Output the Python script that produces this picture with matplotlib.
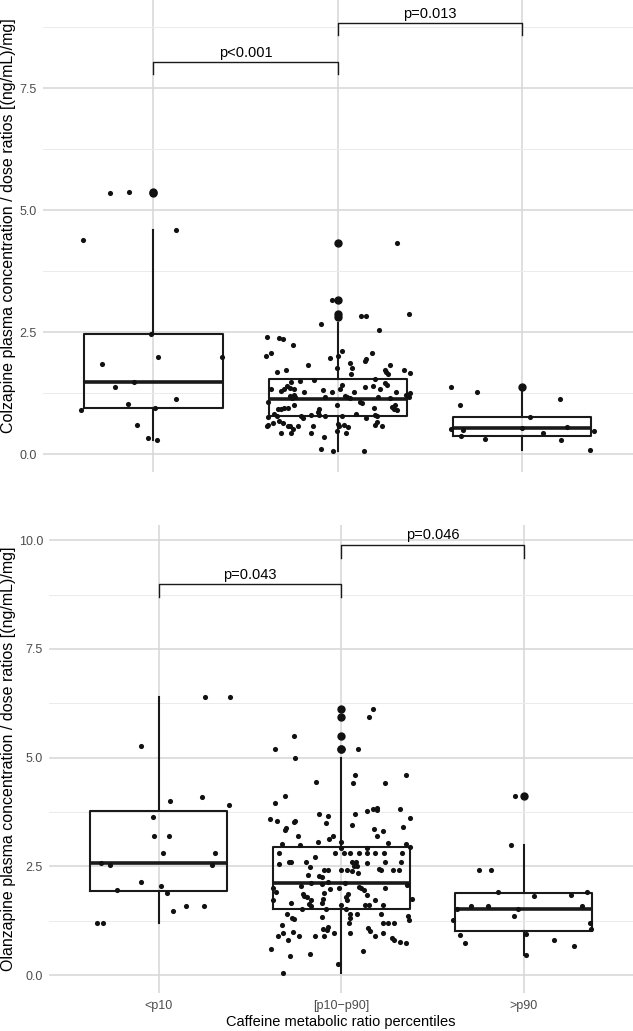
import matplotlib
matplotlib.use("Agg")
import matplotlib.pyplot as plt
import numpy as np

plt.rcParams['font.family'] = ['Liberation Sans', 'DejaVu Sans']

categories = ["<p10", "[p10\u2212p90]", ">p90"]

# ---------------- Clozapine (top panel) ----------------
clz_lo_vals = [5.36, 5.38, 4.39, 4.59, 2.47, 1.99, 1.99, 1.84, 1.47, 1.37, 1.13, 1.03, 0.91, 0.94, 0.59, 0.34, 0.29]
clz_lo_jit = [-0.235, -0.134, -0.38, 0.12, -0.014, 0.026, 0.37, -0.28, -0.105, -0.21, 0.123, -0.137, -0.39, 0.011, -0.089, -0.03, 0.022]

clz_mid_vals = [4.32, 3.17, 2.83, 2.83, 2.87, 2.67, 2.55, 2.40, 2.38, 2.36, 2.24, 2.01, 2.07, 2.12, 1.97, 2.02, 2.08,
                1.95, 1.91, 1.86, 1.77, 1.83, 1.83, 1.77, 1.69, 1.72, 1.64, 1.72, 1.65, 1.69, 1.72, 1.66, 1.55, 1.51,
                1.50, 1.47, 1.46, 1.41, 1.33, 1.34, 1.36, 1.30, 1.34, 1.39, 1.27, 1.31, 1.28, 1.33, 1.42, 1.27, 1.38,
                1.40, 1.33, 1.27, 1.25, 1.18, 1.22, 1.20, 1.21, 1.15, 1.17, 1.18, 1.20, 1.17, 1.15, 1.06, 1.04, 1.17,
                1.15, 1.01, 1.06, 1.00, 0.93, 0.93, 0.94, 0.95, 0.92, 0.87, 0.95, 0.97, 1.00, 0.90, 0.93, 0.79, 0.80,
                0.81, 0.78, 0.78, 0.83, 0.81, 0.79, 0.77, 0.82, 0.78, 0.75, 0.75, 0.68, 0.57, 0.60, 0.64, 0.63, 0.57,
                0.58, 0.51, 0.57, 0.57, 0.61, 0.57, 0.60, 0.56, 0.60, 0.66, 0.57, 0.43, 0.43, 0.44, 0.47, 0.43, 0.35,
                0.10, 0.06, 0.07]
clz_mid_jit = [0.32, -0.03, 0.127, 0.152, 0.388, -0.094, 0.225, -0.384, -0.318, -0.30, -0.244, -0.389, -0.36, 0.024,
               -0.045, 0.003, 0.183, 0.152, 0.147, 0.065, 0.078, 0.283, -0.161, -0.007, -0.33, -0.279, 0.07, 0.254,
               0.27, 0.26, 0.36, 0.393, 0.203, -0.13, -0.207, -0.252, 0.255, 0.266, -0.36, -0.29, -0.262, -0.307,
               -0.235, -0.275, -0.185, -0.078, -0.031, 0.009, 0.022, 0.087, 0.145, 0.19, 0.229, 0.313, 0.39, 0.386,
               0.37, -0.258, -0.24, -0.25, -0.23, -0.07, 0.04, 0.05, 0.068, 0.12, 0.13, 0.22, 0.283, -0.007, -0.38,
               -0.24, -0.325, -0.31, -0.29, -0.27, -0.10, -0.11, 0.197, 0.295, 0.308, 0.318, 0.305, -0.20, -0.148,
               -0.10, -0.07, 0.025, 0.10, 0.20, 0.21, -0.38, -0.348, -0.33, -0.19, 0.15, -0.317, -0.386, -0.38,
               -0.35, -0.30, -0.27, -0.257, -0.244, -0.214, -0.134, 0.0, 0.007, 0.033, 0.054, 0.20, 0.214, 0.24,
               -0.308, -0.253, -0.143, -0.005, 0.044, -0.076, -0.094, -0.025, 0.14]

clz_hi_vals = [1.38, 1.27, 1.00, 1.13, 0.77, 0.52, 0.49, 0.38, 0.31, 0.54, 0.44, 0.55, 0.30, 0.48, 0.09]
clz_hi_jit = [-0.386, -0.246, -0.339, 0.203, 0.04, -0.386, -0.319, -0.33, -0.20, 0.0, 0.114, 0.24, 0.212, 0.39, 0.366]

# box statistics (whislo, q1, median, q3, whishi) and outliers
clz_box_stats = [(0.29, 0.94, 1.48, 2.47, 4.59), (0.06, 0.78, 1.14, 1.54, 2.68), (0.09, 0.38, 0.53, 0.77, 1.27)]
clz_outliers = [[5.36, 5.38], [4.32, 3.17, 2.87, 2.82], [1.38]]

# ---------------- Olanzapine (bottom panel) ----------------
olz_lo_vals = [6.40, 6.40, 5.26, 4.00, 4.10, 3.91, 3.64, 3.20, 3.20, 2.80, 2.80, 2.57, 2.53, 2.53, 2.15, 2.05, 1.96,
               1.90, 1.60, 1.60, 1.47, 1.20, 1.20]
olz_lo_jit = [0.256, 0.39, -0.10, 0.062, 0.236, 0.387, -0.029, -0.024, 0.058, 0.022, 0.31, -0.318, -0.268, 0.294,
              -0.10, 0.015, -0.228, 0.047, 0.148, 0.246, 0.078, -0.337, -0.308]

olz_mid_vals = [6.11, 5.93, 5.50, 5.20, 5.20, 5.00, 4.61, 4.61, 4.41, 4.41, 4.45, 3.95, 4.11, 3.60, 3.54, 3.52, 3.55,
                3.33, 3.39, 3.71, 3.65, 3.51, 3.20, 3.01, 3.00, 3.06, 3.14, 3.20, 3.07, 3.70, 3.46, 3.77, 3.81, 3.84,
                3.80, 3.36, 3.31, 3.20, 3.81, 3.61, 3.40, 3.03, 3.01, 2.94, 2.92, 2.93, 2.80, 2.80, 2.80, 2.80, 2.80,
                2.80, 2.80, 2.80, 2.80, 2.71, 2.55, 2.61, 2.61, 2.61, 2.48, 2.61, 2.61, 2.52, 2.52, 2.58, 2.61, 2.61,
                2.41, 2.41, 2.41, 2.41, 2.39, 2.35, 2.43, 2.41, 2.41, 2.41, 2.31, 2.29, 2.26, 2.14, 2.11, 2.06, 1.87,
                1.83, 2.01, 1.91, 2.09, 2.11, 1.98, 2.01, 2.03, 2.00, 2.01, 2.07, 1.95, 1.84, 1.86, 1.80, 1.72, 1.80,
                1.72, 1.63, 1.74, 1.66, 1.88, 1.72, 1.66, 1.53, 1.58, 1.51, 1.61, 1.53, 1.61, 1.61, 1.72, 1.61, 1.75,
                1.41, 1.32, 1.29, 1.34, 1.41, 1.32, 1.41, 1.41, 1.36, 1.26, 1.16, 1.21, 1.21, 1.21, 1.21, 1.07, 1.10,
                1.03, 1.09, 1.01, 0.91, 0.96, 1.00, 0.91, 0.91, 0.91, 0.96, 0.96, 0.91, 0.96, 0.85, 0.81, 0.77, 0.75,
                0.80, 0.61, 0.55, 0.45, 0.48, 0.26, 0.06]
olz_mid_jit = [0.175, 0.155, -0.256, -0.36, 0.091, -0.252, 0.075, 0.354, 0.066, 0.24, -0.139, -0.362, -0.309, -0.392,
               -0.354, -0.26, -0.252, -0.309, -0.30, -0.119, -0.073, -0.082, -0.237, -0.325, -0.228, -0.125, -0.068,
               -0.042, 0.0, 0.075, 0.062, 0.139, 0.172, 0.194, 0.196, 0.18, 0.229, 0.197, 0.32, 0.38, 0.34, 0.256,
               0.354, 0.38, 0.143, 0.0, -0.031, 0.015, 0.051, 0.099, 0.143, 0.188, 0.234, 0.333, -0.341, -0.146,
               -0.343, -0.285, -0.274, -0.19, -0.172, 0.062, 0.08, 0.069, 0.087, 0.143, 0.243, 0.33, -0.095, -0.071,
               -0.003, 0.032, 0.059, 0.09, 0.205, 0.218, 0.285, 0.318, -0.181, -0.122, -0.103, -0.073, -0.163,
               -0.221, -0.211, -0.204, -0.376, -0.358, -0.106, 0.022, -0.063, -0.013, 0.096, 0.111, 0.241, 0.363,
               0.126, 0.143, 0.04, 0.024, 0.033, -0.186, -0.165, -0.174, -0.10, -0.106, -0.093, -0.373, -0.274,
               -0.216, -0.168, -0.081, 0.0, 0.027, 0.132, 0.153, 0.188, 0.23, 0.39, -0.296, -0.268, -0.26, -0.105,
               0.051, 0.047, 0.087, 0.219, 0.367, 0.374, -0.325, 0.045, 0.232, 0.259, 0.292, -0.10, -0.07, -0.078,
               0.149, 0.16, -0.347, -0.318, -0.265, -0.231, -0.145, -0.092, -0.037, 0.047, 0.188, 0.232, 0.278,
               0.289, 0.32, 0.356, -0.289, -0.387, 0.122, -0.283, -0.172, -0.017, -0.318]

olz_hi_vals = [4.11, 4.11, 3.00, 2.41, 2.41, 1.92, 1.81, 1.85, 1.92, 1.51, 1.60, 1.60, 1.51, 1.36, 1.60, 1.26, 1.21,
               1.05, 0.93, 0.75, 0.94, 0.80, 0.67, 0.47]
olz_hi_jit = [-0.046, 0.0, -0.07, -0.243, -0.179, -0.142, 0.057, 0.259, 0.347, -0.365, -0.289, -0.194, -0.033, -0.053,
              0.32, -0.385, 0.362, 0.37, -0.349, -0.323, 0.013, 0.168, 0.277, 0.011]

olz_box_stats = [(1.20, 1.93, 2.57, 3.78, 6.40), (0.06, 1.51, 2.13, 2.94, 5.00), (0.47, 1.01, 1.51, 1.88, 3.00)]
olz_outliers = [[], [6.11, 5.93, 5.50, 5.20, 5.20], [4.11]]

# significance brackets: (left group, right group, bracket height, label)
clz_sig = [(1, 2, 8.03, "p<0.001"), (2, 3, 8.83, "p=0.013")]
olz_sig = [(1, 2, 9.00, "p=0.043"), (2, 3, 9.90, "p=0.046")]

W, H = 633, 1031
fig = plt.figure(figsize=(W / 100, H / 100), dpi=100)
ax_top = fig.add_axes([42.7 / W, 1 - 471.7 / H, 1 - 42.7 / W, 471.7 / H])
ax_bot = fig.add_axes([49.3 / W, 1 - 993 / H, 1 - 49.3 / W, (993 - 525) / H])

GRID_MAJ = '#d6d6d6'
GRID_MIN = '#ebebeb'


def draw_panel(ax, vals_list, jit_list, box_stats, outliers, sig, ylim, yticks, tick_h):
    stats = []
    for (lo, q1, med, q3, hi), fl in zip(box_stats, outliers):
        stats.append(dict(whislo=lo, q1=q1, med=med, q3=q3, whishi=hi, fliers=fl))
    ax.bxp(stats, positions=[1, 2, 3], widths=0.75, showcaps=False, patch_artist=False,
           manage_ticks=False,
           boxprops=dict(color='#1a1a1a', linewidth=1.5),
           whiskerprops=dict(color='#1a1a1a', linewidth=1.5),
           medianprops=dict(color='#1a1a1a', linewidth=2.6),
           flierprops=dict(marker='o', markersize=5.0, markerfacecolor='#111111',
                           markeredgecolor='#111111', linestyle='none'),
           zorder=3)

    for i, (vals, jit) in enumerate(zip(vals_list, jit_list)):
        xs = np.array(jit) + (i + 1)
        ax.plot(xs, vals, 'o', markersize=3.7, color='#111111', markeredgewidth=0, zorder=4)

    for g1, g2, y, lab in sig:
        ax.plot([g1, g1, g2, g2], [y - tick_h, y, y, y - tick_h], color='#1a1a1a', linewidth=1.0, zorder=5)
        ax.annotate(lab, xy=((g1 + g2) / 2, y), xytext=(0, 1.5), textcoords='offset points',
                    ha='center', va='bottom', fontsize=10.5, color='black')

    ax.set_xlim(0.4, 3.6)
    ax.set_ylim(*ylim)
    for s in ax.spines.values():
        s.set_visible(False)
    ax.set_yticks(yticks)
    ax.set_yticklabels([f"{t:.1f}" for t in yticks])
    minor = [t + 1.25 for t in yticks if ylim[0] < t + 1.25 < ylim[1]]
    ax.set_yticks(minor, minor=True)
    ax.set_xticks([1, 2, 3])
    ax.tick_params(axis='both', which='both', length=0, labelsize=9, labelcolor='#4d4d4d')
    ax.tick_params(axis='y', pad=4.5)
    ax.tick_params(axis='x', pad=5)
    ax.grid(True, which='major', color=GRID_MAJ, linewidth=1.1, zorder=0)
    ax.grid(True, which='minor', axis='y', color=GRID_MIN, linewidth=0.7, zorder=0)
    ax.set_axisbelow(True)


draw_panel(ax_top, [clz_lo_vals, clz_mid_vals, clz_hi_vals], [clz_lo_jit, clz_mid_jit, clz_hi_jit],
           clz_box_stats, clz_outliers, clz_sig, (-0.36, 9.31), [0.0, 2.5, 5.0, 7.5], 0.23)
ax_top.set_xticklabels([])

draw_panel(ax_bot, [olz_lo_vals, olz_mid_vals, olz_hi_vals], [olz_lo_jit, olz_mid_jit, olz_hi_jit],
           olz_box_stats, olz_outliers, olz_sig, (-0.41, 10.35), [0.0, 2.5, 5.0, 7.5, 10.0], 0.3)
ax_bot.set_xticklabels(categories)

fig.text(9 / W, 1 - 226 / H, "Colzapine plasma concentration / dose ratios [(ng/mL)/mg]",
         rotation=90, ha='center', va='center', fontsize=11.5, color='black')
fig.text(9 / W, 1 - 759 / H, "Olanzapine plasma concentration / dose ratios [(ng/mL)/mg]",
         rotation=90, ha='center', va='center', fontsize=11.5, color='black')
fig.text((49.3 + (W - 49.3) / 2) / W, 1 - 1022 / H, "Caffeine metabolic ratio percentiles",
         ha='center', va='center', fontsize=10.5, color='black')

fig.savefig("out.png", dpi=100, facecolor='white')
